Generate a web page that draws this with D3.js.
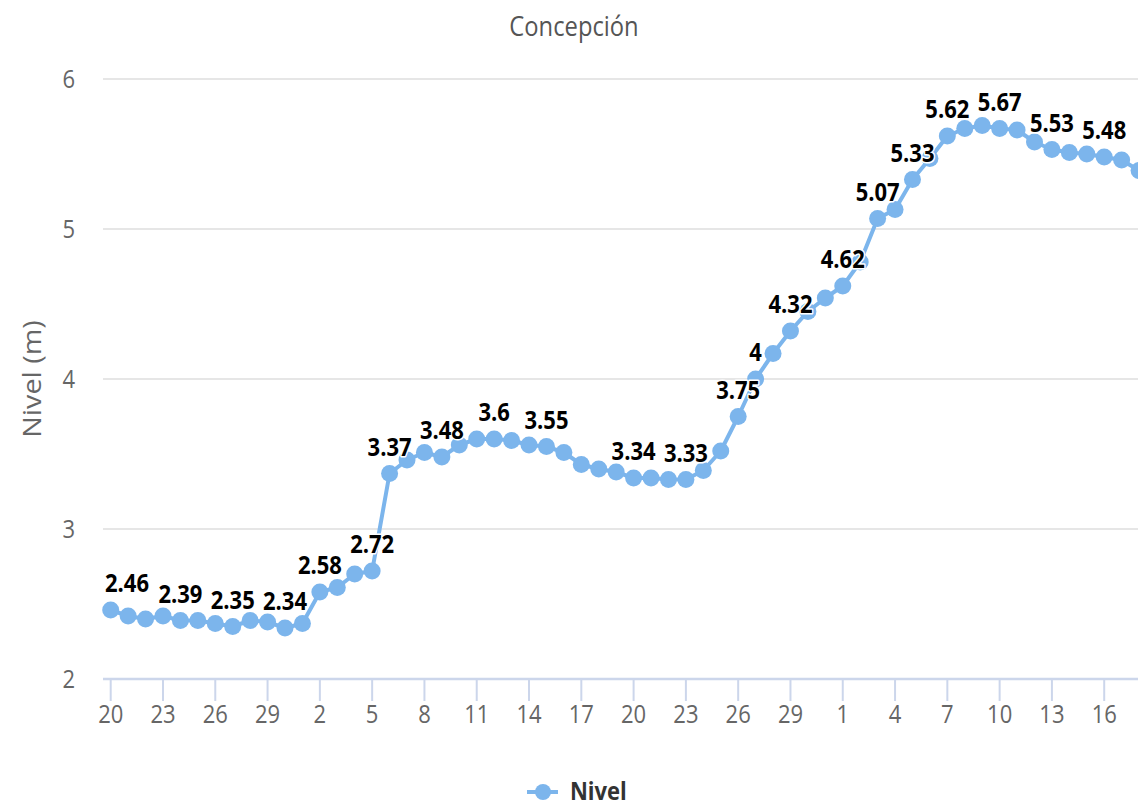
<!DOCTYPE html>
<html>
<head>
<meta charset="utf-8">
<script src="https://cdn.jsdelivr.net/npm/d3@7"></script>
<style>
  body { margin: 0; background: #fff; }
  text { font-family: "Open Sans", "DejaVu Sans", sans-serif; }
</style>
</head>
<body>
<div id="chart-area"></div>
<script>
// Nivel del río - Concepción

var days = ["20","21","22","23","24","25","26","27","28","29","30",
    "1","2","3","4","5","6","7","8","9","10","11","12","13","14","15","16","17","18","19","20",
    "21","22","23","24","25","26","27","28","29","30","31",
    "1","2","3","4","5","6","7","8","9","10","11","12","13","14","15","16","17","18"];

var nivel = [2.46, 2.42, 2.40, 2.42, 2.39, 2.39, 2.37, 2.35, 2.39, 2.38, 2.34,
    2.37, 2.58, 2.61, 2.70, 2.72, 3.37, 3.46, 3.51, 3.48, 3.56,
    3.60, 3.60, 3.59, 3.56, 3.55, 3.51, 3.43, 3.40, 3.38, 3.34,
    3.34, 3.33, 3.33, 3.39, 3.52, 3.75, 4.00, 4.17, 4.32, 4.45,
    4.54, 4.62, 4.78, 5.07, 5.13, 5.33, 5.47, 5.62, 5.67, 5.69,
    5.67, 5.66, 5.58, 5.53, 5.51, 5.50, 5.48, 5.46, 5.39];

// points whose value label is shown (the others are hidden by overlap)
var labelled = [0, 4, 7, 10, 12, 15, 16, 19, 22, 25, 30, 33, 36, 37, 39, 42, 44, 46, 48, 51, 54, 57];

var yTicks = [2, 3, 4, 5, 6];
var tickEvery = 3;

var W = 1138, H = 807;
var plotLeft = 103, plotRight = 1160, plotTop = 79, plotBottom = 679;
var SX = 0.88;   // the source text is a little condensed

var svg = d3.select("#chart-area")
    .append("svg")
        .attr("width", W)
        .attr("height", H);

function label(sel, x, y, str) {
    return sel.append("text")
        .attr("transform", "translate(" + x + "," + y + ") scale(" + SX + ",1)")
        .text(str);
}

var x = d3.scaleLinear()
    .domain([0, nivel.length - 1])
    .range([110.7, 110.7 + (nivel.length - 1) * 17.43]);

var y = d3.scaleLinear()
    .domain([2, 6])
    .range([plotBottom, plotTop]);

// Title
label(svg, W / 2 + 5, 36, "Concepción")
    .attr("text-anchor", "middle")
    .attr("font-size", "27px")
    .attr("fill", "#555");

// Grid lines
svg.append("g").selectAll("line")
    .data(yTicks.slice(1))
    .enter().append("line")
        .attr("x1", plotLeft).attr("x2", plotRight)
        .attr("y1", function(d){ return y(d); })
        .attr("y2", function(d){ return y(d); })
        .attr("stroke", "#e6e6e6")
        .attr("stroke-width", 2);

// Y labels
var yl = svg.append("g");
yTicks.forEach(function(t) {
    label(yl, 75, y(t) + 9, String(t))
        .attr("text-anchor", "end")
        .attr("font-size", "25px")
        .attr("fill", "#666");
});

// Y title
svg.append("text")
    .attr("transform", "translate(41," + (plotTop + plotBottom) / 2 + ") rotate(-90) scale(1.15,1)")
    .attr("text-anchor", "middle")
    .attr("font-size", "25px")
    .attr("fill", "#666")
    .text("Nivel (m)");

// X axis
var xa = svg.append("g");
xa.append("line")
    .attr("x1", plotLeft).attr("x2", plotRight)
    .attr("y1", plotBottom).attr("y2", plotBottom)
    .attr("stroke", "#ccd6eb")
    .attr("stroke-width", 2.5);

var tickIdx = d3.range(0, nivel.length, tickEvery);
tickIdx.forEach(function(i) {
    xa.append("line")
        .attr("x1", x(i)).attr("x2", x(i))
        .attr("y1", plotBottom).attr("y2", plotBottom + 22)
        .attr("stroke", "#ccd6eb")
        .attr("stroke-width", 2);
    label(xa, x(i), plotBottom + 44, days[i])
        .attr("text-anchor", "middle")
        .attr("font-size", "25px")
        .attr("fill", "#666");
});

// Line
var line = d3.line()
    .x(function(d, i){ return x(i); })
    .y(function(d){ return y(d); });

svg.append("path")
    .datum(nivel)
    .attr("d", line)
    .attr("fill", "none")
    .attr("stroke", "#7cb5ec")
    .attr("stroke-width", 4)
    .attr("stroke-linejoin", "round");

svg.append("g").selectAll("circle")
    .data(nivel)
    .enter().append("circle")
        .attr("cx", function(d, i){ return x(i); })
        .attr("cy", function(d){ return y(d); })
        .attr("r", 8.5)
        .attr("fill", "#7cb5ec");

// Data labels
var dl = svg.append("g");
labelled.forEach(function(i) {
    var t = label(dl, x(i), y(nivel[i]) - 18, String(nivel[i]))
        .attr("text-anchor", "middle")
        .attr("font-size", "25px")
        .attr("font-weight", "bold")
        .attr("fill", "#000")
        .attr("stroke", "#fff")
        .attr("stroke-width", 3)
        .attr("stroke-linejoin", "round")
        .attr("paint-order", "stroke");
    // keep the label inside the plot
    var w = t.node().getBBox().width * SX;
    var cx = Math.max(x(i), plotLeft + 2 + w / 2);
    t.attr("transform", "translate(" + cx + "," + (y(nivel[i]) - 18) + ") scale(" + SX + ",1)");
});

// Legend
var lg = svg.append("g");
lg.append("line")
    .attr("x1", 527).attr("x2", 558)
    .attr("y1", 792).attr("y2", 792)
    .attr("stroke", "#7cb5ec")
    .attr("stroke-width", 4);
lg.append("circle")
    .attr("cx", 543).attr("cy", 792).attr("r", 8)
    .attr("fill", "#7cb5ec");
label(lg, 570, 800, "Nivel")
    .attr("font-size", "25px")
    .attr("font-weight", "bold")
    .attr("fill", "#333");
</script>
</body>
</html>
